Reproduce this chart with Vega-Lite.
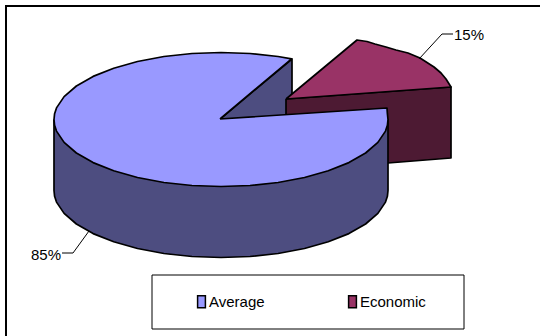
{
  "$schema": "https://vega.github.io/schema/vega-lite/v6.json",
  "width": 540,
  "height": 336,
  "autosize": {"type": "none"},
  "padding": 0,
  "background": "white",
  "view": {"stroke": null},
  "config": {"font": "Liberation Sans"},
  "datasets": {
    "outlines": [
      {"part":"frame","seq":1,"x":-215,"y":-216.5},
      {"part":"frame","seq":2,"x":-215,"y":113.5},
      {"part":"frame","seq":3,"x":319,"y":113.5},

      {"part":"avgWall","seq":1,"x":-1,"y":0.5},
      {"part":"avgWall","seq":2,"x":71,"y":60.5},
      {"part":"avgWall","seq":3,"x":71,"y":-10},
      {"part":"avgWall","seq":4,"x":-1,"y":-71},
      {"part":"avgWall","seq":5,"x":-1,"y":0.5},

      {"part":"ecoSide","seq":1,"x":65,"y":20.5},
      {"part":"ecoSide","seq":2,"x":230,"y":32.5},
      {"part":"ecoSide","seq":3,"x":230,"y":-38.5},
      {"part":"ecoSide","seq":4,"x":167,"y":-43.5},
      {"part":"ecoSide","seq":5,"x":65,"y":-50},
      {"part":"ecoSide","seq":6,"x":65,"y":20.5},

      {"part":"ecoTop","slice":"Economic","seq":1,"x":65,"y":20.5},
      {"part":"ecoTop","slice":"Economic","seq":2,"x":136,"y":79.5},
      {"part":"ecoTop","slice":"Economic","seq":3,"x":146,"y":78},
      {"part":"ecoTop","slice":"Economic","seq":4,"x":154,"y":75.5},
      {"part":"ecoTop","slice":"Economic","seq":5,"x":165,"y":72.5},
      {"part":"ecoTop","slice":"Economic","seq":6,"x":175,"y":69.5},
      {"part":"ecoTop","slice":"Economic","seq":7,"x":187,"y":66.5},
      {"part":"ecoTop","slice":"Economic","seq":8,"x":199,"y":61.5},
      {"part":"ecoTop","slice":"Economic","seq":9,"x":213,"y":52.5},
      {"part":"ecoTop","slice":"Economic","seq":10,"x":220,"y":46.5},
      {"part":"ecoTop","slice":"Economic","seq":11,"x":225,"y":40.5},
      {"part":"ecoTop","slice":"Economic","seq":12,"x":230,"y":32.5},
      {"part":"ecoTop","slice":"Economic","seq":13,"x":65,"y":20.5},

      {"part":"avgSide","seq":1,"x":-167,"y":0},
      {"part":"avgSide","seq":2,"x":-167,"y":-71},
      {"part":"avgSide","seq":3,"x":-166.4,"y":-76.8},
      {"part":"avgSide","seq":4,"x":-164.5,"y":-82.6},
      {"part":"avgSide","seq":5,"x":-156.9,"y":-93.9},
      {"part":"avgSide","seq":6,"x":-144.6,"y":-104.5},
      {"part":"avgSide","seq":7,"x":-127.9,"y":-114.1},
      {"part":"avgSide","seq":8,"x":-107.3,"y":-122.3},
      {"part":"avgSide","seq":9,"x":-83.5,"y":-129},
      {"part":"avgSide","seq":10,"x":-57.1,"y":-134},
      {"part":"avgSide","seq":11,"x":-29,"y":-137},
      {"part":"avgSide","seq":12,"x":0,"y":-138},
      {"part":"avgSide","seq":13,"x":29,"y":-137},
      {"part":"avgSide","seq":14,"x":57.1,"y":-134},
      {"part":"avgSide","seq":15,"x":83.5,"y":-129},
      {"part":"avgSide","seq":16,"x":107.3,"y":-122.3},
      {"part":"avgSide","seq":17,"x":127.9,"y":-114.1},
      {"part":"avgSide","seq":18,"x":144.6,"y":-104.5},
      {"part":"avgSide","seq":19,"x":156.9,"y":-93.9},
      {"part":"avgSide","seq":20,"x":164.5,"y":-82.6},
      {"part":"avgSide","seq":21,"x":166.4,"y":-76.8},
      {"part":"avgSide","seq":22,"x":167,"y":-71},
      {"part":"avgSide","seq":23,"x":167,"y":0},
      {"part":"avgSide","seq":24,"x":-167,"y":0},

      {"part":"avgTop","slice":"Average","seq":1,"x":-1,"y":0.5},
      {"part":"avgTop","slice":"Average","seq":2,"x":70.6,"y":60.7},
      {"part":"avgTop","slice":"Average","seq":3,"x":57.1,"y":63},
      {"part":"avgTop","slice":"Average","seq":4,"x":29,"y":66},
      {"part":"avgTop","slice":"Average","seq":5,"x":0,"y":67},
      {"part":"avgTop","slice":"Average","seq":6,"x":-29,"y":66},
      {"part":"avgTop","slice":"Average","seq":7,"x":-57.1,"y":63},
      {"part":"avgTop","slice":"Average","seq":8,"x":-83.5,"y":58},
      {"part":"avgTop","slice":"Average","seq":9,"x":-107.3,"y":51.3},
      {"part":"avgTop","slice":"Average","seq":10,"x":-127.9,"y":43.1},
      {"part":"avgTop","slice":"Average","seq":11,"x":-144.6,"y":33.5},
      {"part":"avgTop","slice":"Average","seq":12,"x":-156.9,"y":22.9},
      {"part":"avgTop","slice":"Average","seq":13,"x":-164.5,"y":11.6},
      {"part":"avgTop","slice":"Average","seq":14,"x":-166.4,"y":5.8},
      {"part":"avgTop","slice":"Average","seq":15,"x":-167,"y":0},
      {"part":"avgTop","slice":"Average","seq":16,"x":-166.4,"y":-5.8},
      {"part":"avgTop","slice":"Average","seq":17,"x":-164.5,"y":-11.6},
      {"part":"avgTop","slice":"Average","seq":18,"x":-156.9,"y":-22.9},
      {"part":"avgTop","slice":"Average","seq":19,"x":-144.6,"y":-33.5},
      {"part":"avgTop","slice":"Average","seq":20,"x":-127.9,"y":-43.1},
      {"part":"avgTop","slice":"Average","seq":21,"x":-107.3,"y":-51.3},
      {"part":"avgTop","slice":"Average","seq":22,"x":-83.5,"y":-58},
      {"part":"avgTop","slice":"Average","seq":23,"x":-57.1,"y":-63},
      {"part":"avgTop","slice":"Average","seq":24,"x":-29,"y":-66},
      {"part":"avgTop","slice":"Average","seq":25,"x":0,"y":-67},
      {"part":"avgTop","slice":"Average","seq":26,"x":29,"y":-66},
      {"part":"avgTop","slice":"Average","seq":27,"x":57.1,"y":-63},
      {"part":"avgTop","slice":"Average","seq":28,"x":83.5,"y":-58},
      {"part":"avgTop","slice":"Average","seq":29,"x":107.3,"y":-51.3},
      {"part":"avgTop","slice":"Average","seq":30,"x":127.9,"y":-43.1},
      {"part":"avgTop","slice":"Average","seq":31,"x":144.6,"y":-33.5},
      {"part":"avgTop","slice":"Average","seq":32,"x":156.9,"y":-22.9},
      {"part":"avgTop","slice":"Average","seq":33,"x":164.5,"y":-11.6},
      {"part":"avgTop","slice":"Average","seq":34,"x":166.4,"y":-5.8},
      {"part":"avgTop","slice":"Average","seq":35,"x":167,"y":0},
      {"part":"avgTop","slice":"Average","seq":36,"x":166.4,"y":5.8},
      {"part":"avgTop","slice":"Average","seq":37,"x":166,"y":11.5},
      {"part":"avgTop","slice":"Average","seq":38,"x":-1,"y":0.5},

      {"part":"leader15","seq":1,"x":198,"y":60.5},
      {"part":"leader15","seq":2,"x":221,"y":85.5},
      {"part":"leader15","seq":3,"x":232,"y":85.5},

      {"part":"leader85","seq":1,"x":-132,"y":-111.5},
      {"part":"leader85","seq":2,"x":-148,"y":-133.5},
      {"part":"leader85","seq":3,"x":-159,"y":-133.5}
    ],
    "legendBox": [{"x":-69,"x2":243,"y":-155.5,"y2":-209.5}],
    "shares": [
      {"slice":"Average","share":0.85,"x":-175,"y":-135.5},
      {"slice":"Economic","share":0.15,"x":248,"y":84.5}
    ]
  },
  "encoding": {
    "x": {"field":"x","type":"quantitative","axis":null,"scale":{"domain":[-221,319],"nice":false,"zero":false}},
    "y": {"field":"y","type":"quantitative","axis":null,"scale":{"domain":[-216.5,119.5],"nice":false,"zero":false}}
  },
  "layer": [
    {
      "data":{"name":"legendBox"},
      "mark":{"type":"rect","fill":"white","stroke":"black","strokeWidth":1},
      "encoding":{"x2":{"field":"x2"},"y2":{"field":"y2"}}
    },
    {
      "data":{"name":"outlines"},
      "transform":[{"filter":"datum.part==='frame'"}],
      "mark":{"type":"line","stroke":"black","strokeWidth":2},
      "encoding":{"order":{"field":"seq"}}
    },
    {
      "data":{"name":"outlines"},
      "transform":[{"filter":"datum.part==='avgWall'"}],
      "mark":{"type":"line","fill":"#4d4d80","stroke":"black","strokeWidth":1.7,"strokeJoin":"round"},
      "encoding":{"order":{"field":"seq"}}
    },
    {
      "data":{"name":"outlines"},
      "transform":[{"filter":"datum.part==='ecoSide'"}],
      "mark":{"type":"line","fill":"#4d1a33","stroke":"black","strokeWidth":1.7,"strokeJoin":"round"},
      "encoding":{"order":{"field":"seq"}}
    },
    {
      "data":{"name":"outlines"},
      "transform":[{"filter":"datum.part==='ecoTop'"}],
      "mark":{"type":"line","stroke":"black","strokeWidth":1.7,"strokeJoin":"round"},
      "encoding":{
        "order":{"field":"seq"},
        "fill":{
          "field":"slice","type":"nominal",
          "scale":{"domain":["Average","Economic"],"range":["#9999ff","#993366"]},
          "legend":{
            "orient":"none","legendX":194,"legendY":294,
            "direction":"horizontal","columns":2,"columnPadding":80,
            "title":null,"padding":0,
            "symbolType":"M-0.65,-1H0.65V1H-0.65Z","symbolSize":144,
            "symbolStrokeColor":"black","symbolStrokeWidth":1.5,"symbolOpacity":1,
            "labelFont":"Liberation Sans","labelFontSize":15,"labelColor":"black","labelOffset":0
          }
        }
      }
    },
    {
      "data":{"name":"outlines"},
      "transform":[{"filter":"datum.part==='avgSide'"}],
      "mark":{"type":"line","fill":"#4d4d80","stroke":"black","strokeWidth":1.7,"strokeJoin":"round"},
      "encoding":{"order":{"field":"seq"}}
    },
    {
      "data":{"name":"outlines"},
      "transform":[{"filter":"datum.part==='avgTop'"}],
      "mark":{"type":"line","stroke":"black","strokeWidth":1.7,"strokeJoin":"round"},
      "encoding":{
        "order":{"field":"seq"},
        "fill":{"field":"slice","type":"nominal"}
      }
    },
    {
      "data":{"name":"outlines"},
      "transform":[{"filter":"datum.part==='leader15'||datum.part==='leader85'"}],
      "mark":{"type":"line","stroke":"black","strokeWidth":1},
      "encoding":{"order":{"field":"seq"},"detail":{"field":"part"}}
    },
    {
      "data":{"name":"shares"},
      "mark":{"type":"text","font":"Liberation Sans","fontSize":15,"color":"black"},
      "encoding":{"text":{"field":"share","type":"quantitative","format":".0%"}}
    }
  ]
}
